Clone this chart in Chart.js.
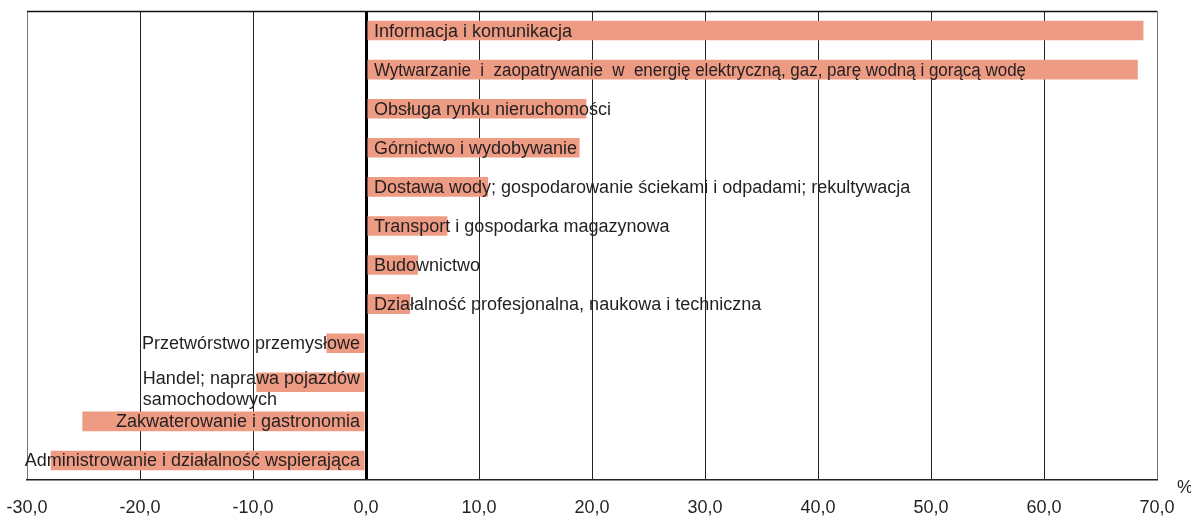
<!DOCTYPE html>
<html><head><meta charset="utf-8">
<script src="https://cdn.jsdelivr.net/npm/chart.js@4/dist/chart.umd.min.js"></script>
<style>html,body{margin:0;padding:0;background:#fff}#wrap{width:1191px;height:517px}</style>
</head><body><div id="wrap"><canvas id="c" width="1191" height="517"></canvas></div>
<script>
const categories = [
  "Informacja i komunikacja",
  "Wytwarzanie  i  zaopatrywanie  w  energię elektryczną, gaz, parę wodną i gorącą wodę",
  "Obsługa rynku nieruchomości",
  "Górnictwo i wydobywanie",
  "Dostawa wody; gospodarowanie ściekami i odpadami; rekultywacja",
  "Transport i gospodarka magazynowa",
  "Budownictwo",
  "Działalność profesjonalna, naukowa i techniczna",
  "Przetwórstwo przemysłowe",
  "Handel; naprawa pojazdów\nsamochodowych",
  "Zakwaterowanie i gastronomia",
  "Administrowanie i działalność wspierająca"
];
const values = [68.8, 68.3, 19.5, 18.9, 10.8, 7.2, 4.6, 3.9, -3.5, -9.7, -25.1, -27.9];
const xMin = -30, xMax = 70, xStep = 10;
const unitLabel = "%";

const FAMILY = '"Liberation Sans", Arial, sans-serif';
const FONT = '18px ' + FAMILY;
const TXT = '#231f20';

const labelPlugin = {
  id: 'labels',
  afterDatasetsDraw(chart) {
    const ctx = chart.ctx;
    const meta = chart.getDatasetMeta(0);
    const xs = chart.scales.x;
    const zero = xs.getPixelForValue(0);
    ctx.save();
    ctx.font = FONT;
    ctx.fillStyle = TXT;
    ctx.textBaseline = 'middle';
    meta.data.forEach((bar, i) => {
      const v = values[i];
      const lines = categories[i].split('\n');
      const y = bar.y;
      if (v >= 0) {
        ctx.textAlign = 'left';
        if (i === 1) ctx.fillText(lines[0], zero + 8, y + 1, 652);
        else ctx.fillText(lines[0], zero + 8, y + 1);
      } else {
        if (lines.length === 1) {
          ctx.textAlign = 'right';
          ctx.fillText(lines[0], zero - 6, y + 1);
        } else {
          const w = ctx.measureText(lines[0]).width;
          ctx.textAlign = 'left';
          const x0 = zero - 6 - w;
          const lh = 21;
          lines.forEach((l, k) => ctx.fillText(l, x0, y - 3 + k * lh));
        }
      }
    });
    const a = chart.chartArea;
    ctx.strokeStyle = '#111';
    ctx.lineWidth = 1.5;
    ctx.beginPath();
    ctx.moveTo(a.left, a.top + 0.5);
    ctx.lineTo(a.right, a.top + 0.5);
    ctx.stroke();
    ctx.textAlign = 'center';
    ctx.fillText(unitLabel, a.right + 28, a.bottom + 8);
    ctx.restore();
  }
};

new Chart(document.getElementById('c'), {
  type: 'bar',
  data: {
    labels: categories,
    datasets: [{
      data: values,
      backgroundColor: '#ee9b84',
      borderWidth: 0,
      barPercentage: 1,
      categoryPercentage: 0.5
    }]
  },
  options: {
    indexAxis: 'y',
    responsive: false,
    animation: false,
    layout: { padding: { left: 27, right: 34, top: 11, bottom: 0 } },
    plugins: { legend: { display: false }, tooltip: { enabled: false } },
    scales: {
      x: {
        min: xMin, max: xMax,
        afterFit(s) { s.height = 37; s.paddingLeft = 0; s.paddingRight = 0; },
        ticks: {
          stepSize: xStep,
          padding: 17,
          color: TXT,
          font: { family: FAMILY, size: 18 },
          maxRotation: 0,
          callback: v => v.toFixed(1).replace('.', ',')
        },
        grid: {
          drawTicks: false,
          color: c => (c.tick && c.tick.value === 0) ? '#000' : ((c.tick && (c.tick.value === xMin || c.tick.value === xMax)) ? '#777' : '#222'),
          lineWidth: c => (c.tick && c.tick.value === 0) ? 3 : 1
        },
        border: { display: true, color: '#222', width: 1.5 }
      },
      y: { display: false, grid: { display: false } }
    }
  },
  plugins: [labelPlugin]
});
</script></body></html>
